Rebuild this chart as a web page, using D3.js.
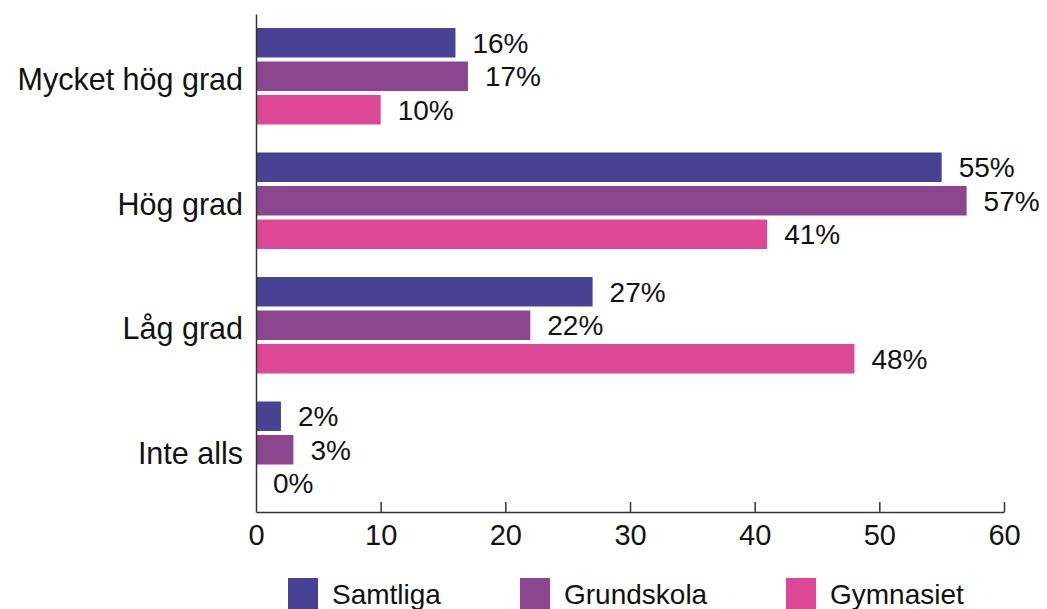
<!DOCTYPE html>
<html lang="sv">
<head>
<meta charset="UTF-8">
<title>Grad</title>
<script src="https://cdn.jsdelivr.net/npm/d3@7"></script>
<style>
  body { margin: 0; background: #fff; }
  svg text { font-family: "Liberation Sans", Arial, sans-serif; fill: #111; }
</style>
</head>
<body>
<div id="vis"></div>
<script>
// data
const categories = ["Mycket hög grad", "Hög grad", "Låg grad", "Inte alls"];
const seriesNames = ["Samtliga", "Grundskola", "Gymnasiet"];
const samtliga = [16, 55, 27, 2];
const grundskola = [17, 57, 22, 3];
const gymnasiet = [10, 41, 48, 0];
const xTicks = [0, 10, 20, 30, 40, 50, 60];
const colors = ["#474293", "#8b468f", "#dc4895"];

const seriesValues = [samtliga, grundskola, gymnasiet];
const width = 1047, height = 609;

let svg = d3.select("#vis").append("svg")
    .attr("width", width)
    .attr("height", height);

let x = d3.scaleLinear().domain([0, 60]).range([256, 1004]);
let y0 = d3.scaleBand().domain(categories).range([14, 512]);
let y1 = d3.scaleBand().domain(seriesNames)
    .range([14, y0.bandwidth() - 14])
    .paddingInner(0.12);
let color = d3.scaleOrdinal().domain(seriesNames).range(colors);

// bars
let groups = svg.selectAll("g.cat")
    .data(categories)
    .enter().append("g")
    .attr("class", "cat")
    .attr("transform", d => "translate(0," + y0(d) + ")");

groups.each(function (cat, ci) {
    let g = d3.select(this);
    let rows = seriesNames.map((s, si) => ({s: s, v: seriesValues[si][ci]}));
    g.selectAll("rect").data(rows).enter().append("rect")
        .attr("x", x(0))
        .attr("y", d => y1(d.s))
        .attr("width", d => x(d.v) - x(0))
        .attr("height", y1.bandwidth())
        .attr("fill", d => color(d.s));
    g.selectAll("text.val").data(rows).enter().append("text")
        .attr("class", "val")
        .attr("x", d => x(d.v) + 17)
        .attr("y", d => y1(d.s) + y1.bandwidth() / 2)
        .attr("dy", "0.36em")
        .attr("font-size", 28)
        .text(d => d.v + "%");
});

// category labels
svg.selectAll("text.cat").data(categories).enter().append("text")
    .attr("class", "cat")
    .attr("x", 243)
    .attr("y", d => y0(d) + y0.bandwidth() / 2 + 3)
    .attr("dy", "0.36em")
    .attr("text-anchor", "end")
    .attr("font-size", 30.5)
    .text(d => d);

// x axis
let xAxis = svg.append("g")
    .attr("transform", "translate(0,512)")
    .call(d3.axisBottom(x).tickValues(xTicks).tickSize(-10).tickSizeOuter(0).tickPadding(12));
xAxis.select(".domain").attr("stroke", "#333").attr("stroke-width", 1.5);
xAxis.selectAll(".tick line").attr("stroke", "#333").attr("stroke-width", 1.5);
xAxis.selectAll(".tick").filter(d => d === 0).select("line").remove();
xAxis.selectAll(".tick text")
    .attr("font-size", 29)
    .attr("font-family", "Liberation Sans, Arial, sans-serif")
    .attr("fill", "#111");

// y axis line
let yAxis = svg.append("g")
    .attr("transform", "translate(256,0)")
    .call(d3.axisLeft(y0).tickSize(0).tickFormat(""));
yAxis.select(".domain").attr("stroke", "#333").attr("stroke-width", 1.5);

// legend
let legendX = [288, 520, 786];
let legend = svg.selectAll("g.leg").data(seriesNames).enter().append("g")
    .attr("class", "leg")
    .attr("transform", (d, i) => "translate(" + legendX[i] + ",578)");
legend.append("rect")
    .attr("width", 30)
    .attr("height", 31)
    .attr("fill", d => color(d));
legend.append("text")
    .attr("x", 44)
    .attr("y", 16)
    .attr("dy", "0.36em")
    .attr("font-size", 28)
    .text(d => d);
</script>
</body>
</html>
